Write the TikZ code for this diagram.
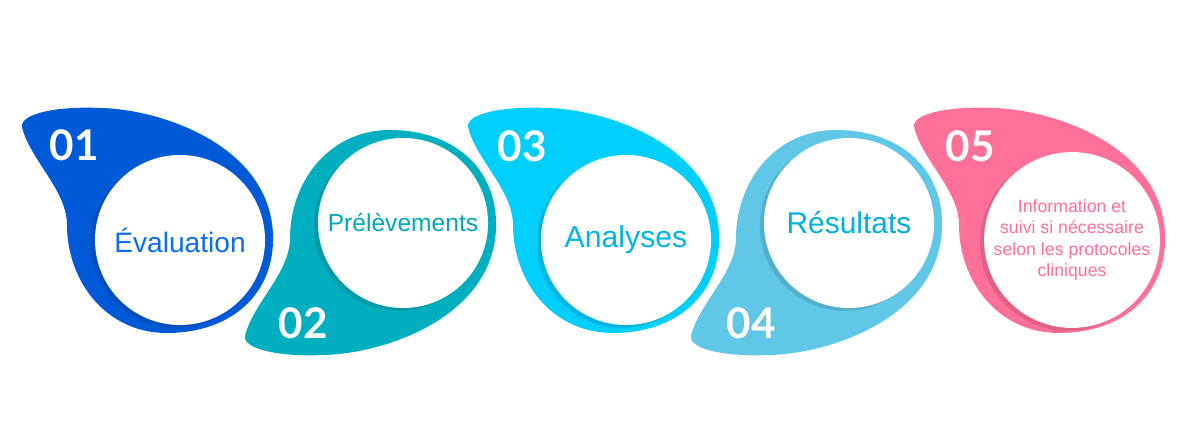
\documentclass[tikz,border=0pt]{standalone}
\usepackage{fontspec}
\setmainfont{Liberation Sans}
\newfontfamily\numfont{Lato}
\usepackage{xcolor}
\usepackage{tikz}
\usetikzlibrary{shadows}
\definecolor{corUm}{HTML}{0059D6}
\definecolor{corDois}{HTML}{00AFBF}
\definecolor{corTres}{HTML}{00CFFD}
\definecolor{corQuatro}{HTML}{60C8E6}
\definecolor{corCinco}{HTML}{FF7098}
\definecolor{txtUm}{HTML}{0A6CF5}
\definecolor{txtDois}{HTML}{00A8B9}
\definecolor{txtTres}{HTML}{00B4E8}
\definecolor{txtQuatro}{HTML}{00AEE0}
\definecolor{txtCinco}{HTML}{FF6F9A}
% contorno da gota, centrado no circulo
\newcommand{\gota}{(-158,-113)
    .. controls (-160,-127) and (-120,-134) .. (-80,-132)
    .. controls (-20,-131) and (90,-95) .. (93,-5)
    .. controls (95,55) and (50,93) .. (-13,93)
    .. controls (-75,93) and (-113,40) .. (-113,-15)
    .. controls (-113,-50) and (-150,-80) .. (-158,-113) -- cycle}
\tikzset{
    circulo/.style={
        circle,
        fill=white,
        minimum size=4.25cm,
        inner sep=0pt,
        align=center,
        drop shadow={shadow xshift=-3pt, shadow yshift=-2pt, fill=#1!65!black, opacity=.35}
    },
    numero/.style={
        text=white,
        inner sep=0pt,
        font=\numfont\bfseries\fontsize{30}{30}\selectfont
    }
}

\begin{document}
\begin{tikzpicture}[x=0.025cm, y=-0.025cm]
    \useasboundingbox (0,0) rectangle (1200,444);

    \fill[corUm, shift={(180,240)}] \gota;
    \fill[corDois, shift={(403,223)}, yscale=-1] \gota;
    \fill[corTres, shift={(626,240)}] \gota;
    \fill[corQuatro, shift={(849,223)}, yscale=-1] \gota;
    \fill[corCinco, shift={(1072,240)}] \gota;

    \node[circulo=corUm, text=txtUm, font=\fontsize{20}{24}\selectfont] (avaliacao) at (180,240)
    {Évaluation};

    \node[circulo=corDois, text=txtDois, font=\fontsize{17.5}{21}\selectfont] (coleta) at (403,223)
    {Prélèvements};

    \node[circulo=corTres, text=txtTres, font=\fontsize{21.5}{25}\selectfont] (analises) at (626,240)
    {Analyses};

    \node[circulo=corQuatro, text=txtQuatro, font=\fontsize{21.3}{25}\selectfont] (resultados) at (849,223)
    {Résultats};

    \node[circulo=corCinco, text=txtCinco, font=\fontsize{12.6}{15.3}\selectfont] (seguimento) at (1072,240)
    {Information et\\
     suivi si nécessaire\\
     selon les protocoles\\
     cliniques};

    \node[numero] (num1) at (74,145) {01};
    \node[numero] (num2) at (303,323) {02};
    \node[numero] (num3) at (522,146) {03};
    \node[numero] (num4) at (751,323) {04};
    \node[numero] (num5) at (970,146) {05};

\end{tikzpicture}
\end{document}
